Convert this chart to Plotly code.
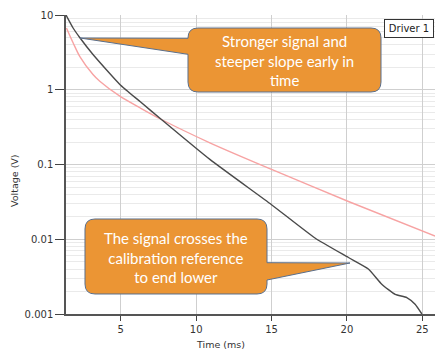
import plotly.graph_objects as go

# Measured signal (Driver 1)
sig_t = [1.37, 1.84, 2.28, 3.16, 4.94, 6.3, 7.7, 10.91, 15.0, 17.88, 20.1, 21.42, 22.31, 23.2, 23.97, 24.52, 24.97]
sig_v = [10, 6.7, 5.0, 2.96, 1.18, 0.69, 0.40, 0.117, 0.029, 0.0104, 0.0057, 0.0040, 0.0025, 0.00183, 0.00166, 0.00135, 0.001]

# Calibration reference
ref_t = [1.4, 1.84, 2.28, 3.16, 3.61, 4.94, 6.3, 7.7, 10.91, 15.0, 20.1, 25.85]
ref_v = [6.7, 4.25, 2.8, 1.6, 1.30, 0.82, 0.57, 0.40, 0.195, 0.086, 0.032, 0.011]

x_ticks = [5, 10, 15, 20, 25]
y_ticks = [10, 1, 0.1, 0.01, 0.001]
y_tick_labels = ["10", "1", "0.1", "0.01", "0.001"]

x_title = "Time (ms)"
y_title = "Voltage (V)"
note_top = "Stronger signal and<br>steeper slope early in<br>time"
note_bottom = "The signal crosses the<br>calibration reference<br>to end lower"
legend_label = "Driver 1"

W, H = 435, 351
ML, MR, MT, MB = 66, 0, 15, 37
PW, PH = W - ML - MR, H - MT - MB


def px(x):
    return (x - ML) / PW


def py(y):
    return (H - MB - y) / PH


def callout(x0, y0, x1, y1, r, side, b0, b1, tip):
    # rounded box with a pointer, in pixel units -> paper coordinates
    P = lambda x, y: f"{px(x):.5f},{py(y):.5f}"
    d = f"M {P(x0 + r, y0)} L {P(x1 - r, y0)} Q {P(x1, y0)} {P(x1, y0 + r)} "
    if side == "right":
        d += f"L {P(x1, b0)} L {P(*tip)} L {P(x1, b1)} "
    d += f"L {P(x1, y1 - r)} Q {P(x1, y1)} {P(x1 - r, y1)} L {P(x0 + r, y1)} Q {P(x0, y1)} {P(x0, y1 - r)} "
    if side == "left":
        d += f"L {P(x0, b1)} L {P(*tip)} L {P(x0, b0)} "
    d += f"L {P(x0, y0 + r)} Q {P(x0, y0)} {P(x0 + r, y0)} Z"
    return dict(type="path", xref="paper", yref="paper", path=d,
                fillcolor="#EB9534", line=dict(color="#5A6F8C", width=1), layer="above")


fig = go.Figure()
fig.add_trace(go.Scatter(x=ref_t, y=ref_v, mode="lines",
                         line=dict(color="#F7A3A3", width=1.4, shape="spline", smoothing=0.8),
                         name="Reference", showlegend=False, hoverinfo="skip"))
fig.add_trace(go.Scatter(x=sig_t, y=sig_v, mode="lines",
                         line=dict(color="#4A4A4A", width=1.4, shape="spline", smoothing=0.5),
                         name=legend_label, showlegend=False, hoverinfo="skip"))

fig.update_layout(
    width=W, height=H, margin=dict(l=ML, r=MR, t=MT, b=MB, autoexpand=False),
    paper_bgcolor="white", plot_bgcolor="white",
    font=dict(family="DejaVu Sans", size=10, color="#333333"),
    shapes=[
        callout(188, 28, 381, 92, 10, "left", 38.3, 54.3, (80, 38)),
        callout(85, 219, 267, 294, 10, "right", 262.7, 280, (350, 263)),
    ],
    annotations=[
        dict(xref="paper", yref="paper", x=px(284.5), y=py(60), xanchor="center", yanchor="middle",
             text=note_top, showarrow=False, font=dict(family="Lato", size=15, color="white"), align="center"),
        dict(xref="paper", yref="paper", x=px(176), y=py(257), xanchor="center", yanchor="middle",
             text=note_bottom, showarrow=False, font=dict(family="Lato", size=15, color="white"), align="center"),
        dict(xref="paper", yref="paper", x=px(409), y=py(28.7), xanchor="center", yanchor="middle",
             text=legend_label, showarrow=False, width=44, height=13,
             font=dict(family="DejaVu Sans", size=10, color="#222222"), bgcolor="white",
             bordercolor="#333333", borderwidth=1, borderpad=2),
        dict(xref="paper", yref="paper", x=px(220), y=py(344), xanchor="center", yanchor="middle",
             text=x_title, showarrow=False, font=dict(family="DejaVu Sans", size=9.5, color="#333333")),
        dict(xref="paper", yref="paper", x=px(14), y=py(181), xanchor="center", yanchor="middle",
             text=y_title, textangle=-90, showarrow=False,
             font=dict(family="DejaVu Sans", size=9.5, color="#333333")),
    ],
)
fig.update_xaxes(range=[1.37, 25.84], tickvals=x_ticks, ticks="outside", ticklen=5, tickcolor="#444444",
                 showline=True, linecolor="#555555", linewidth=1.5, showgrid=True, gridcolor="#CFCFCF",
                 gridwidth=1, zeroline=False)
fig.update_yaxes(type="log", range=[-3, 1], tickvals=y_ticks, ticktext=y_tick_labels, ticks="outside",
                 ticklen=9, tickcolor="#444444", showline=True, linecolor="#555555", linewidth=1.5,
                 showgrid=True, gridcolor="#CFCFCF", gridwidth=1, zeroline=False,
                 minor=dict(dtick="D1", showgrid=True, gridcolor="#EAEAEA", ticks=""))

fig.write_html("out.html", config={"displayModeBar": False},
               post_script="document.body.style.margin='0';document.body.style.overflow='hidden';")
